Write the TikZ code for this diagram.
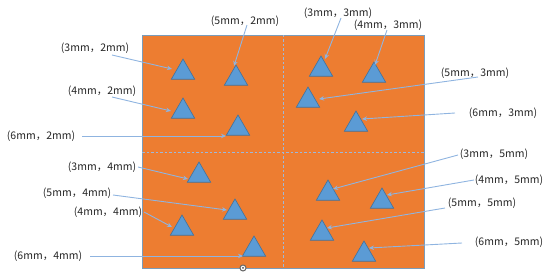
\documentclass[tikz,border=0pt]{standalone}
\usepackage{fontspec}
\newfontfamily\cjk{Noto Sans CJK SC}
\usetikzlibrary{shapes.geometric,arrows.meta,calc}
\definecolor{bgorange}{HTML}{ED7D31}
\definecolor{triblue}{HTML}{5B9BD5}
\definecolor{triedge}{HTML}{41719C}
\definecolor{arrblue}{HTML}{8FB4E0}
\definecolor{dashblue}{HTML}{9DB8DA}
\definecolor{labgray}{HTML}{262626}
\tikzset{
  tri/.style={regular polygon, regular polygon sides=3, minimum size=27pt, inner sep=0pt, outer sep=0pt, fill=triblue, draw=triedge, line width=0.6pt},
  lab/.style={inner sep=0pt, font=\cjk\fontsize{10.5}{12}\selectfont, text=labgray},
  arr/.style={draw=arrblue, line width=0.9pt, -{Stealth[length=5pt,width=4.5pt]}},
  grid/.style={draw=dashblue, line width=0.7pt, dash pattern=on 2.5pt off 2pt},
}
\begin{document}
\begin{tikzpicture}[x=1pt,y=-1pt]
\useasboundingbox (0,0) rectangle (550,280);
\node[draw=triedge!70, line width=0.6pt, fill=bgorange, minimum width=282pt, minimum height=233pt, inner sep=0pt, anchor=north west] (board) at (142,35) {};
\draw[grid] (283,35) -- (283,268);
\draw[grid] (142,152) -- (424,152);
% handle
\node[circle, draw=gray!80!black, line width=1pt, fill=white, minimum size=6pt, inner sep=0pt] (handle) at (243,268) {};
\node[circle, fill=gray!60!black, minimum size=2pt, inner sep=0pt] (handledot) at (243,268) {};
% triangles
\node[tri] (t32) at (183,72.5) {};
\node[tri] (t52) at (236,78.5) {};
\node[tri] (t42) at (183,111.5) {};
\node[tri] (t62) at (238,128.5) {};
\node[tri] (t33) at (321,69.5) {};
\node[tri] (t43) at (374,75.5) {};
\node[tri] (t53) at (308,100.5) {};
\node[tri] (t63) at (356,124.5) {};
\node[tri] (t34) at (199,175.5) {};
\node[tri] (t54) at (235,212.5) {};
\node[tri] (t44) at (182,228.5) {};
\node[tri] (t64) at (254,249.5) {};
\node[tri] (t35) at (328,193.5) {};
\node[tri] (t45) at (382,201.5) {};
\node[tri] (t55) at (322,233.5) {};
\node[tri] (t65) at (364,254.5) {};
% labels
\node[lab] (l32) at (95,48) {(3mm，2mm)};
\node[lab] (l52) at (245,21) {(5mm，2mm)};
\node[lab] (l42) at (102,91) {(4mm，2mm)};
\node[lab] (l62) at (41,136) {(6mm，2mm)};
\node[lab] (l33) at (338,13) {(3mm，3mm)};
\node[lab] (l43) at (388,25) {(4mm，3mm)};
\node[lab] (l53) at (475,73) {(5mm，3mm)};
\node[lab] (l63) at (503,113) {(6mm，3mm)};
\node[lab] (l34) at (102,167) {(3mm，4mm)};
\node[lab] (l54) at (77,193) {(5mm，4mm)};
\node[lab] (l44) at (108,212) {(4mm，4mm)};
\node[lab] (l64) at (48,256) {(6mm，4mm)};
\node[lab] (l35) at (494,154) {(3mm，5mm)};
\node[lab] (l45) at (509,180) {(4mm，5mm)};
\node[lab] (l55) at (482,203) {(5mm，5mm)};
\node[lab] (l65) at (509,242) {(6mm，5mm)};
% connectors
\draw[arr] ($(l32)+(17,7)$) -- ($(t32)+(-11,-3.5)$);
\draw[arr] ($(l52)+(2,4)$) -- ($(t52)+(-2,-12.5)$);
\draw[arr] ($(l42)+(10,6)$) -- ($(t42)+(-12,-0.5)$);
\draw[arr] ($(l62)+(41,0)$) -- ($(t62)+(-12,7.5)$);
\draw[arr] ($(l33)+(3,5)$) -- ($(t33)+(4,-10.5)$);
\draw[arr] ($(l43)+(-1,5)$) -- ($(t43)+(1,-10.5)$);
\draw[arr] ($(l53)+(3,4)$) -- ($(t53)+(11,-1.5)$);
\draw[arr] ($(l63)+(-48,0)$) -- ($(t63)+(6,-5.5)$);
\draw[arr] ($(l34)+(36,0)$) -- ($(t34)+(-11,3.5)$);
\draw[arr] ($(l54)+(36,2)$) -- ($(t54)+(-8,-2.5)$);
\draw[arr] ($(l44)+(36,0)$) -- ($(t44)+(-10,-1.5)$);
\draw[arr] ($(l64)+(42,0)$) -- ($(t64)+(-11,6.5)$);
\draw[arr] ($(l35)+(-36,1)$) -- ($(t35)+(5,-4.5)$);
\draw[arr] ($(l45)+(-35,0)$) -- ($(t45)+(5,-6.5)$);
\draw[arr] ($(l55)+(-37,5)$) -- ($(t55)+(5,-5.5)$);
\draw[arr] ($(l65)+(-47,1)$) -- ($(t65)+(5,-6.5)$);
\end{tikzpicture}
\end{document}
